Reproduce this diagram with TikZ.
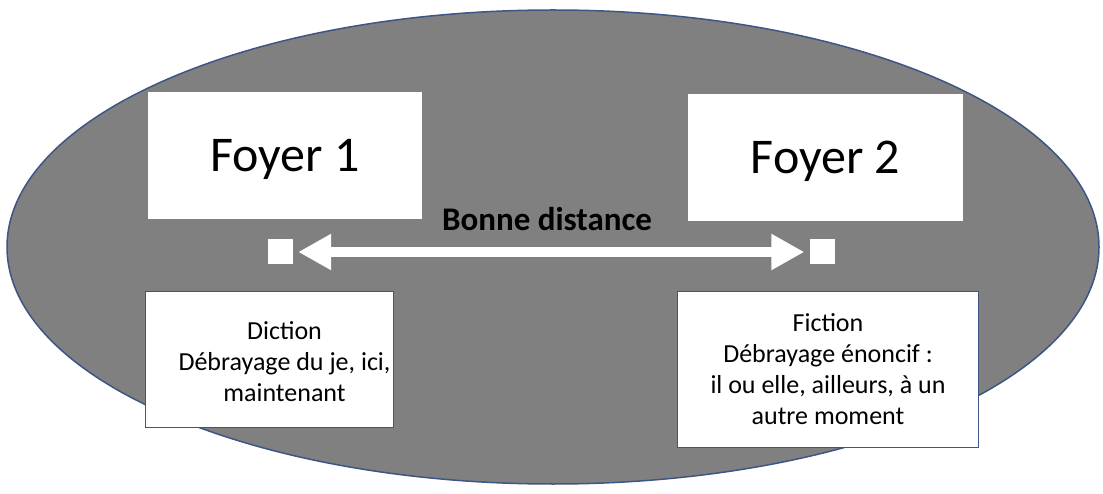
\documentclass[tikz,border=0pt]{standalone}
\usepackage{fontspec}
\setmainfont{Carlito}
\usetikzlibrary{arrows.meta}
\definecolor{ellgray}{RGB}{128,128,128}
\definecolor{edgeblue}{RGB}{61,86,134}
\tikzset{
  foyerbox/.style={fill=white, draw=none, inner sep=0pt, text depth=0pt, text height=32pt, font=\fontsize{50}{60}\selectfont},
  infobox/.style={fill=white, draw=edgeblue, line width=1pt, inner sep=0pt},
  infotext/.style={align=center, inner sep=0pt, anchor=north, font=\fontsize{26}{31}\selectfont},
  focus/.style={fill=white, draw=none, inner sep=0pt, minimum size=25pt},
  blockarrow/.style={draw=white, line width=10.5pt, {Triangle[width=34pt,length=33pt]}-{Triangle[width=34pt,length=33pt]}, shorten <=5pt, shorten >=5pt}
}
\begin{document}
\begin{tikzpicture}[x=1pt,y=-1pt]
\useasboundingbox (0,0) rectangle (1103,494);
% ellipse
\draw[fill=ellgray, draw=edgeblue, line width=1.5pt] (553,247) ellipse [x radius=546pt, y radius=237pt];
% foyer boxes
\node[foyerbox, minimum width=274pt, minimum height=127pt] (f1) at (285,156) {Foyer 1};
\node[foyerbox, minimum width=275pt, minimum height=127pt] (f2) at (825.5,158) {Foyer 2};
% focus squares
\node[focus] (s1) at (280.5,252) {};
\node[focus] (s2) at (822,252) {};
\draw[blockarrow] (s1) -- (s2);
\node[font=\fontsize{33}{38}\selectfont\bfseries, inner sep=0pt, anchor=base] (bd) at (547,231) {Bonne distance};
% info boxes
\node[infobox, minimum width=248pt, minimum height=135pt] (b1) at (269,359.5) {};
\node[infotext] (t1) at (284.5,321.5) {Diction\\Débrayage du je, ici,\\maintenant};
\node[infobox, minimum width=301pt, minimum height=155pt] (b2) at (827.5,369.5) {};
\node[infotext] (t2) at (828,313) {Fiction\\Débrayage énoncif :\\ il ou elle, ailleurs, à un\\autre moment};
\end{tikzpicture}
\end{document}
